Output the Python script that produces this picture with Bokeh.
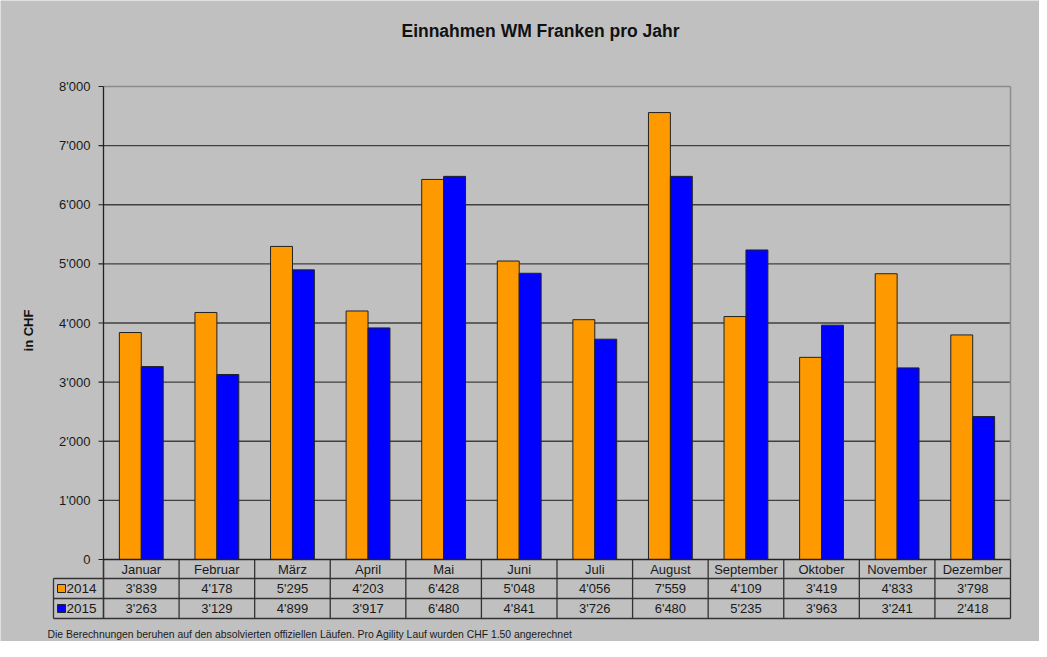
import math
from bokeh.plotting import figure
from bokeh.models import ColumnDataSource, Range1d
from bokeh.transform import dodge
from bokeh.core.properties import value
from bokeh.embed import file_html
from bokeh.resources import INLINE

# ---------------- data ----------------
months = ["Januar", "Februar", "März", "April", "Mai", "Juni", "Juli",
          "August", "September", "Oktober", "November", "Dezember"]
series_names = ["2014", "2015"]
values_2014 = [3839, 4178, 5295, 4203, 6428, 5048, 4056, 7559, 4109, 3419, 4833, 3798]
values_2015 = [3263, 3129, 4899, 3917, 6480, 4841, 3726, 6480, 5235, 3963, 3241, 2418]
y_ticks = [0, 1000, 2000, 3000, 4000, 5000, 6000, 7000, 8000]
title_text = "Einnahmen WM Franken pro Jahr"
y_label_text = "in CHF"
footnote_text = ("Die Berechnungen beruhen auf den absolvierten offiziellen Läufen. "
                 "Pro Agility  Lauf wurden CHF 1.50 angerechnet")

def fmt(v):
    return f"{v:,}".replace(",", "'")

# ---------------- layout (pixels) ----------------
FIG_W, FIG_H = 1039, 641
OX, OY = 0, 0
L, R, T, B = 103, 1010, 86, 559
N = len(months)
YMAX = y_ticks[-1]
cw = (R - L) / N
upp = YMAX / (B - T)

def xd(px):
    return (px - L) / cw

def yd(py):
    return (B - py) * upp

FONT = value("Liberation Sans")
BG = "#c0c0c0"
ORANGE = "#ff9900"
BLUE = "#0000ff"

p = figure(width=FIG_W, height=FIG_H, output_backend="svg", toolbar_location=None,
           x_range=Range1d(xd(OX), xd(OX + FIG_W)),
           y_range=Range1d(yd(OY + FIG_H), yd(OY)),
           x_axis_location=None, y_axis_location=None,
           min_border=0, min_border_left=0, min_border_right=0,
           min_border_top=0, min_border_bottom=0)
p.background_fill_color = BG
p.border_fill_color = BG
p.outline_line_color = None
p.xgrid.visible = False
p.ygrid.visible = False

centers = [i + 0.5 for i in range(N)]
src = ColumnDataSource(dict(
    x=centers, month=months,
    v2014=values_2014, v2015=values_2015,
    t2014=[fmt(v) for v in values_2014],
    t2015=[fmt(v) for v in values_2015],
))

# grid lines and plot border
p.segment(x0=0, x1=N, y0=y_ticks[1:-1], y1=y_ticks[1:-1], line_color="#404040", line_width=1.4)
p.segment(x0=[0, N], x1=[N, N], y0=[YMAX, YMAX], y1=[YMAX, 0], line_color="#8c8c8c", line_width=1.5)

# bars
bw = 0.29
p.vbar(x=dodge("x", -bw / 2, range=p.x_range), top="v2014", bottom=0, width=bw, source=src,
       fill_color=ORANGE, line_color="#222222", line_width=1)
p.vbar(x=dodge("x", bw / 2, range=p.x_range), top="v2015", bottom=0, width=bw, source=src,
       fill_color=BLUE, line_color="#222222", line_width=1)

# y axis: line, ticks, labels
p.segment(x0=0, x1=0, y0=YMAX, y1=yd(618), line_color="#222222", line_width=1.3)
p.segment(x0=xd(98), x1=0, y0=y_ticks, y1=y_ticks, line_color="#222222", line_width=1.2)
p.text(x=0, y=y_ticks, text=[fmt(t) for t in y_ticks], x_offset=-13,
       text_align="right", text_baseline="middle", text_font=FONT,
       text_font_size="13px", text_color="#1a1a1a")

# data table
row_h = [yd(559), yd(578), yd(598), yd(618)]
p.segment(x0=0, x1=N, y0=row_h[0], y1=row_h[0], line_color="#222222", line_width=1.3)
p.segment(x0=xd(53), x1=N, y0=row_h[1:], y1=row_h[1:], line_color="#333333", line_width=1.3)
p.segment(x0=list(range(N + 1)), x1=list(range(N + 1)), y0=row_h[0], y1=row_h[3],
          line_color="#333333", line_width=1.3)
p.segment(x0=xd(53), x1=xd(53), y0=row_h[1], y1=row_h[3], line_color="#333333", line_width=1.3)

ymid = [(row_h[i] + row_h[i + 1]) / 2 for i in range(3)]
for col, ym in zip(["month", "t2014", "t2015"], ymid):
    p.text(x="x", y=ym, text=col, source=src, text_align="center", text_baseline="middle",
           text_font=FONT, text_font_size="13px", text_color="#1a1a1a")

p.scatter(x=xd(61), y=ymid[1:], marker="square", size=8, fill_color=[ORANGE, BLUE],
          line_color="#222222", line_width=1)
p.text(x=xd(66), y=ymid[1:], text=series_names, text_align="left", text_baseline="middle",
       text_font=FONT, text_font_size="13.5px", text_color="#1a1a1a")

# title, axis label, footnote
p.text(x=xd(540), y=yd(30), text=[title_text], text_align="center", text_baseline="middle",
       text_font=FONT, text_font_size="17.5px", text_font_style="bold", text_color="#111111")
p.text(x=xd(28), y=yd(330), text=[y_label_text], angle=math.pi / 2, text_align="center",
       text_baseline="middle", text_font=FONT, text_font_size="13px",
       text_font_style="bold", text_color="#111111")
p.text(x=xd(47), y=yd(634), text=[footnote_text], text_align="left", text_baseline="middle",
       text_font=FONT, text_font_size="10.4px", text_color="#1a1a1a")

open("out.html", "w").write(file_html(p, INLINE))
